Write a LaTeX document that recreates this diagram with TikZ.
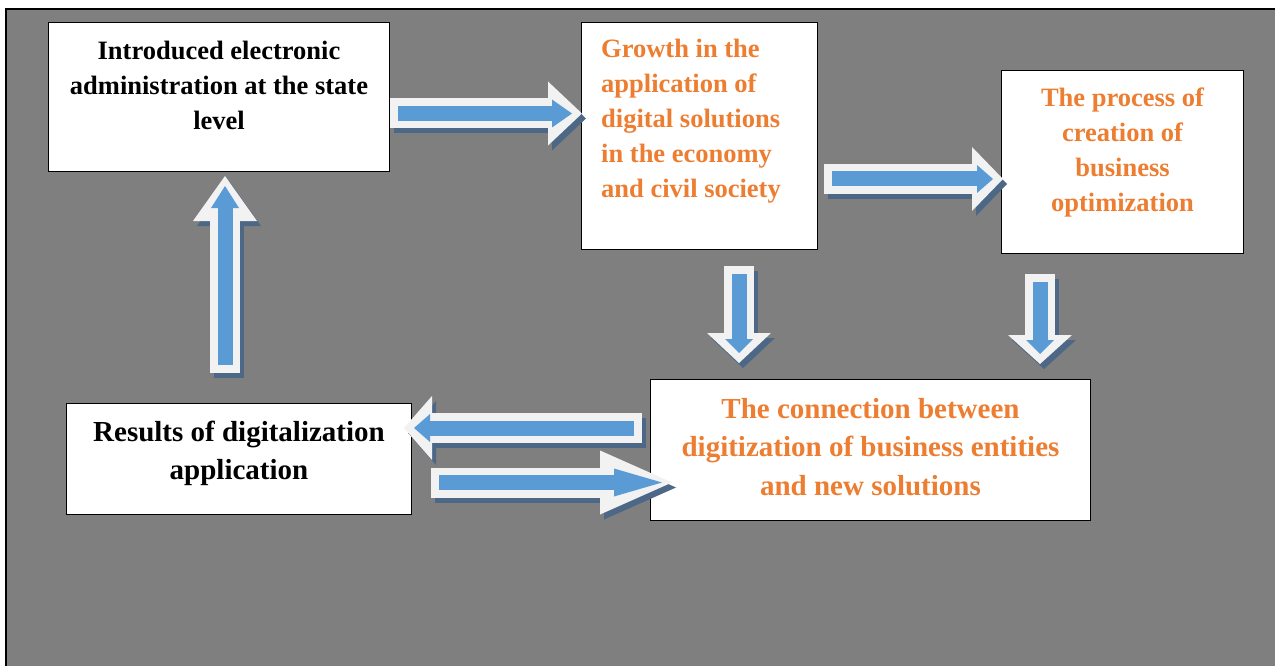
\documentclass[tikz,border=0pt]{standalone}
\usepackage{fontspec}
\setmainfont{Liberation Serif}
\usepackage{tikz}
\usetikzlibrary{arrows.meta,positioning,calc}
\definecolor{sheet}{HTML}{7F7F7F}
\definecolor{accentorange}{HTML}{ED7D31}
\definecolor{arrrim}{HTML}{F2F2F2}
\definecolor{arrcore}{HTML}{5B9BD5}
\definecolor{arrshade}{HTML}{4D6887}
\tikzset{
  panel/.style={draw=black,fill=white,line width=1pt,inner sep=0pt,anchor=north west},
  darktext/.style={text=black,align=center,inner sep=0pt,
                   font=\fontsize{26.5}{35}\selectfont\bfseries},
  orangetext/.style={text=accentorange,align=center,inner sep=0pt,
                     font=\fontsize{26.5}{35}\selectfont\bfseries},
  bigtext/.style={font=\fontsize{29}{38.5}\selectfont\bfseries},
  blockarr/.style 2 args={
    preaction={draw=arrshade,line width=30pt,
               -{Triangle[length=#1 0 0,width=64pt 0 0,line width=0pt]},
               transform canvas={shift={(4pt,-5pt)}}},
    draw=arrrim,line width=30pt,
    -{Triangle[length=#1 0 0,width=64pt 0 0,line width=0pt]},
    postaction={draw=arrcore,line width=15pt,
                -{Triangle[length=#2 0 0,width=28pt 0 0,line width=0pt]},
                shorten <=8pt,shorten >=10pt}
  }
}

\begin{document}
\begin{tikzpicture}[x=1pt,y=1pt]
  \useasboundingbox (0,0) rectangle (1275,-666);
  \fill[white] (0,0) rectangle (1275,-666);
  \clip (0,0) rectangle (1275,-666);
  \draw[fill=sheet,line width=2pt] (6,-9) rectangle (1290,-690);

  % boxes
  \node[panel,minimum width=341pt,minimum height=149pt] (intro) at (48,-22) {};
  \node[panel,minimum width=236pt,minimum height=227pt] (growth) at (581,-22) {};
  \node[panel,minimum width=242pt,minimum height=183pt] (process) at (1001,-70) {};
  \node[panel,minimum width=440pt,minimum height=141pt] (link) at (650,-379) {};
  \node[panel,minimum width=345pt,minimum height=111pt] (results) at (66,-403) {};

  % texts
  \node[darktext] (introtext) at ([yshift=12pt]intro.center)
    {Introduced electronic\\administration at the state\\level};
  \node[orangetext,align=left,anchor=west] (growthtext) at ([xshift=20pt,yshift=14.5pt]growth.west)
    {Growth in the\\application of\\digital solutions\\in the economy\\and civil society};
  \node[orangetext] (processtext) at ([yshift=9.5pt]process.center)
    {The process of\\creation of\\business\\optimization};
  \node[orangetext,bigtext] (linktext) at ([yshift=3pt]link.center)
    {The connection between\\digitization of business entities\\and new solutions};
  \node[darktext,bigtext] (resultstext) at ([yshift=5.5pt]results.center)
    {Results of digitalization\\application};

  % block arrows
  \draw[blockarr={34pt}{20pt}] ([yshift=-16.5pt]intro.east) -- ([xshift=1pt,yshift=-16.5pt]intro.east -| growth.west);
  \draw[blockarr={31pt}{16pt}] ([xshift=6pt,yshift=-43pt]growth.east) -- ([xshift=2pt,yshift=-43pt]growth.east -| process.west);
  \draw[blockarr={30pt}{14pt}] ([xshift=39.5pt,yshift=-16pt]growth.south) -- ([xshift=39.5pt,yshift=16pt]growth.south |- link.north);
  \draw[blockarr={29pt}{14pt}] ([xshift=-82.5pt,yshift=-20pt]process.south) -- ([xshift=-82.5pt,yshift=15pt]process.south |- link.north);
  \draw[blockarr={28pt}{16pt}] ([xshift=-8pt,yshift=22pt]link.west) -- ([xshift=-8pt,yshift=22pt]link.west -| results.east);
  \draw[blockarr={72pt}{48pt}] ([xshift=19pt,yshift=-23.5pt]results.east) -- ([xshift=22pt,yshift=-23.5pt]results.east -| link.west);
  \draw[blockarr={45pt}{22pt}] ([xshift=-14pt,yshift=30pt]results.north) -- ([xshift=-14pt,yshift=-4pt]results.north |- intro.south);
\end{tikzpicture}
\end{document}
